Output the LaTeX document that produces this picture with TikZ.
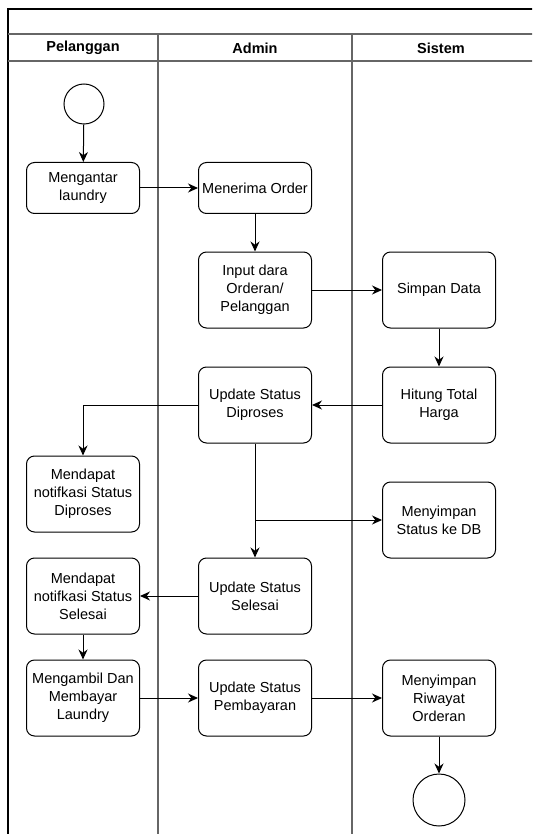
\documentclass[tikz,border=0pt]{standalone}
\usepackage{fontspec}
\setmainfont{Liberation Sans}
\usetikzlibrary{arrows.meta}

\tikzset{
  act/.style = {draw, rounded corners = 8pt, line width = 1pt, align = center,
                minimum width = 113pt, inner sep = 2pt, font = \fontsize{14.5}{18}\selectfont},
  short/.style = {act, minimum height = 51pt},
  tall/.style = {act, minimum height = 76pt},
  lane/.style = {draw = black!60, line width = 1.5pt},
  flow/.style = {-{Stealth[length = 10pt, width = 9pt]}, line width = 1pt},
  head/.style = {font = \fontsize{14.5}{18}\selectfont\bfseries}
}

\begin{document}
\begin{tikzpicture}[x = 1pt, y = -1pt]
		\useasboundingbox (0, 0) rectangle (532, 834);
		\clip (0, 0) rectangle (532, 834);
		%%%%%%%%%%%%% lanes
		\draw [line width = 1.5pt] (8, 850) -- (8, 9) -- (545, 9);
		\draw [lane] (8, 34) -- (545, 34);
		\draw [lane] (8, 61) -- (545, 61);
		\draw [lane] (158, 34) -- (158, 850);
		\draw [lane] (352, 34) -- (352, 850);
		\node [head] (h1) at (83, 48) {Pelanggan};
		\node [head] (h2) at (255, 48) {Admin};
		\node [head] (h3) at (441, 48) {Sistem};
		%%%%%%%%%%%%% nodes
		\node [draw, circle, minimum size = 40pt, line width = 1pt] (start) at (84, 104) {};
		\node [short] (antar) at (83, 188) {Mengantar\\laundry};
		\node [short] (terima) at (255, 188) {Menerima Order};
		\node [tall] (input) at (255, 290) {Input dara\\Orderan/\\Pelanggan};
		\node [tall] (simpan) at (439, 290) {Simpan Data};
		\node [tall] (hitung) at (439, 405) {Hitung Total\\Harga};
		\node [tall] (proses) at (255, 405) {Update Status\\Diproses};
		\node [tall] (nproses) at (83, 494) {Mendapat\\notifkasi Status\\Diproses};
		\node [tall] (db) at (439, 520) {Menyimpan\\Status ke DB};
		\node [tall] (selesai) at (255, 596) {Update Status\\Selesai};
		\node [tall] (nselesai) at (83, 596) {Mendapat\\notifkasi Status\\Selesai};
		\node [tall] (ambil) at (83, 698) {Mengambil Dan\\Membayar\\Laundry};
		\node [tall] (bayar) at (255, 698) {Update Status\\Pembayaran};
		\node [tall] (riwayat) at (439, 698) {Menyimpan\\Riwayat\\Orderan};
		\node [draw, circle, minimum size = 52pt, line width = 1pt] (stop) at (439, 800) {};
		%%%%%%%%%%%%% flows
		\draw [flow] (start) to (antar);
		\draw [flow] (antar) to (terima);
		\draw [flow] (terima) to (input);
		\draw [flow] (input) to (simpan);
		\draw [flow] (simpan) to (hitung);
		\draw [flow] (hitung) to (proses);
		\draw [flow] (proses.west) -| (nproses.north);
		\draw [flow] (proses) to (selesai);
		\coordinate (cabang) at (proses.south |- db.west);
		\draw [flow] (cabang) to (db.west);
		\draw [flow] (selesai) to (nselesai);
		\draw [flow] (nselesai) to (ambil);
		\draw [flow] (ambil) to (bayar);
		\draw [flow] (bayar) to (riwayat);
		\draw [flow] (riwayat) to (stop);
\end{tikzpicture}
\end{document}
